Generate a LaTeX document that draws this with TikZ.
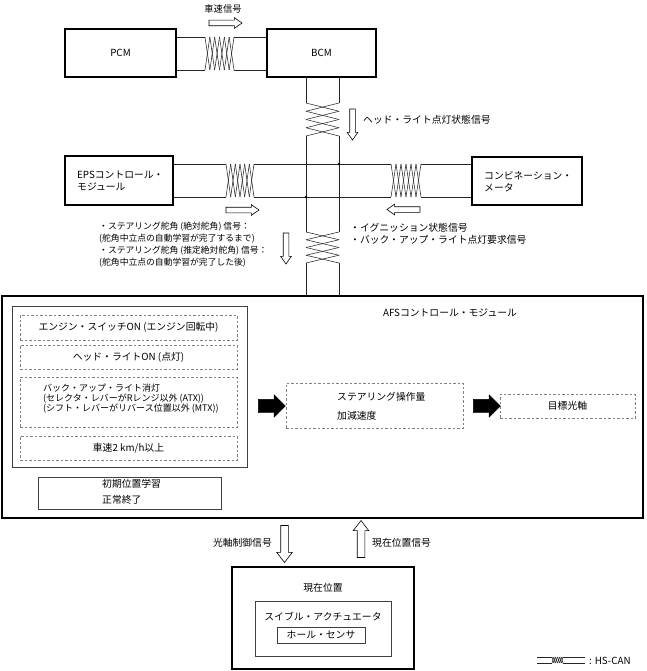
\documentclass[tikz,border=0pt]{standalone}
\usepackage{fontspec}
\setmainfont{Noto Sans CJK JP}
\usetikzlibrary{shapes.arrows}
\tikzset{
  box/.style={draw, line width=1.1pt, rectangle, inner sep=0pt},
  gbox/.style={draw=black!75, line width=0.7pt, rectangle, inner sep=0pt},
  dbox/.style={draw=black!50, dash pattern=on 2.5pt off 2pt, line width=0.6pt, rectangle, inner sep=0pt},
  cable/.style={line width=0.55pt, draw=black!85},
  harrow/.style={single arrow, draw, fill=white, line width=0.6pt, inner xsep=0pt, inner ysep=2.5pt,
    single arrow head extend=2.5pt, single arrow tip angle=70, minimum height=#1},
  bigharrow/.style={single arrow, draw, fill=white, line width=0.6pt, inner xsep=0pt, inner ysep=3.5pt,
    single arrow head extend=4pt, single arrow tip angle=75, minimum height=#1},
  barrow/.style={single arrow, draw, fill=black, line width=0.4pt, inner xsep=0pt, inner ysep=6.5pt,
    single arrow head extend=4.5pt, single arrow tip angle=90, minimum height=#1},
  txt/.style={font=\fontsize{9.8}{12}\selectfont, inner sep=0pt},
  stxt/.style={font=\fontsize{8.8}{12}\selectfont, inner sep=0pt},
  jdot/.style={circle, fill=black, inner sep=0pt, minimum size=2.6pt},
}
% horizontal twist: x1, x2, ytop, ybottom, segments
\newcommand\mytwisth[5]{%
  \foreach \i in {1,...,#5}{%
    \draw[cable] ({#1+(\i-1)*(#2-#1)/#5},{mod(\i,2)==1 ? #3 : #4}) -- ({#1+\i*(#2-#1)/#5},{mod(\i,2)==1 ? #4 : #3});
    \draw[cable] ({#1+(\i-1)*(#2-#1)/#5},{mod(\i,2)==1 ? #4 : #3}) -- ({#1+\i*(#2-#1)/#5},{mod(\i,2)==1 ? #3 : #4});
  }}
% vertical twist: y1, y2, xleft, xright, segments
\newcommand\mytwistv[5]{%
  \foreach \i in {1,...,#5}{%
    \draw[cable] ({mod(\i,2)==1 ? #3 : #4},{#1+(\i-1)*(#2-#1)/#5}) -- ({mod(\i,2)==1 ? #4 : #3},{#1+\i*(#2-#1)/#5});
    \draw[cable] ({mod(\i,2)==1 ? #4 : #3},{#1+(\i-1)*(#2-#1)/#5}) -- ({mod(\i,2)==1 ? #3 : #4},{#1+\i*(#2-#1)/#5});
  }}
\begin{document}
\begin{tikzpicture}[x=1pt,y=-1pt]
\useasboundingbox (0,0) rectangle (646,671);

% ---- top modules
\node[box, minimum width=111pt, minimum height=48pt, txt] (pcm) at (120.5,53) {PCM};
\node[box, minimum width=109pt, minimum height=48pt, txt] (bcm) at (321.5,53) {BCM};
\node[box, minimum width=108pt, minimum height=49pt] (eps) at (119,180.5) {};
\node[txt, anchor=west, align=left] (epst) at (77,181) {EPSコントロール・\\モジュール};
\node[box, minimum width=110pt, minimum height=48pt] (comb) at (527,181) {};
\node[txt, anchor=west, align=left] (combt) at (484,181.5) {コンビネーション・\\メータ};

% ---- AFS module
\node[box, minimum width=641pt, minimum height=222pt] (afs) at (322.5,407) {};
\node[txt] (afst) at (450,313) {AFSコントロール・モジュール};
\node[gbox, minimum width=235pt, minimum height=161pt] (cond) at (129.5,386.5) {};
\node[dbox, minimum width=217pt, minimum height=25pt, txt] (d1) at (128.5,327.5) {エンジン・スイッチON (エンジン回転中)};
\node[dbox, minimum width=217pt, minimum height=24pt, txt] (d2) at (128.5,357) {ヘッド・ライトON (点灯)};
\node[dbox, minimum width=217pt, minimum height=50pt] (d3) at (128.5,402) {};
\node[anchor=west, align=left, inner sep=0pt, font=\fontsize{9}{9.6}\selectfont] (d3t) at (43,398.5) {バック・アップ・ライト消灯\\(セレクタ・レバーがRレンジ以外 (ATX))\\(シフト・レバーがリバース位置以外 (MTX))};
\node[dbox, minimum width=217pt, minimum height=24pt, txt] (d4) at (128.5,448) {車速2 km/h以上};
\node[gbox, minimum width=183pt, minimum height=32pt] (init) at (129.5,493) {};
\node[txt, anchor=west, align=left, font=\fontsize{9.8}{16}\selectfont] (initt) at (102,492) {初期位置学習\\正常終了};
\node[dbox, minimum width=177pt, minimum height=45pt] (steer) at (374.5,405.5) {};
\node[txt, anchor=west, align=left, font=\fontsize{9.8}{19}\selectfont] (steert) at (337,406.5) {ステアリング操作量\\加減速度};
\node[dbox, minimum width=135pt, minimum height=24pt, txt] (target) at (567.5,406) {目標光軸};
\node[barrow=27pt] (ba1) at (268.5,406) {};
\node[barrow=27pt] (ba2) at (483.5,406) {};

% ---- actuator
\node[box, minimum width=182pt, minimum height=102pt] (act) at (323,618) {};
\node[txt] (actt) at (323,588) {現在位置};
\node[gbox, line width=0.6pt, minimum width=136pt, minimum height=55pt] (swiv) at (323,628.5) {};
\node[txt] (swivt) at (323,617) {スイブル・アクチュエータ};
\node[gbox, line width=0.6pt, minimum width=88pt, minimum height=16pt, txt] (hall) at (321,635) {ホール・センサ};
\node[bigharrow=37pt, rotate=-90] (a6) at (284.5,541.5) {};
\node[bigharrow=37pt, rotate=90] (a7) at (361,541.5) {};
\node[txt, anchor=east] (a6t) at (272,543) {光軸制御信号};
\node[txt, anchor=west] (a7t) at (372,543) {現在位置信号};

% ---- cable coordinates
\coordinate (vl0) at (306,77);  \coordinate (vr0) at (339,77);
\coordinate (vl9) at (306,296); \coordinate (vr9) at (339,296);

% PCM - BCM
\draw[cable] (pcm.east |- 0,37) -- (205,37) (234,37) -- (bcm.west |- 0,37);
\draw[cable] (pcm.east |- 0,70) -- (205,70) (234,70) -- (bcm.west |- 0,70);
\mytwisth{205}{234}{37}{70}{6}
\node[harrow=33pt] (a1) at (223.5,23) {};
\node[txt, font=\fontsize{9.3}{11}\selectfont] (a1t) at (223,9) {車速信号};

% vertical bus
\draw[cable] (vl0) -- (306,103) (306,136) -- (306,232) (306,263) -- (vl9);
\draw[cable] (vr0) -- (339,103) (339,136) -- (339,232) (339,263) -- (vr9);
\mytwistv{103}{136}{306}{339}{4}
\mytwistv{232}{263}{306}{339}{4}
\node[harrow=31pt, rotate=-90] (a2) at (352.5,122.5) {};
\node[txt, anchor=west] (a2t) at (363,120) {ヘッド・ライト点灯状態信号};

% horizontal bus
\draw[cable] (eps.east |- 0,164) -- (226,164) (254,164) -- (391,164) (421,164) -- (comb.west |- 0,164);
\draw[cable] (eps.east |- 0,197) -- (226,197) (254,197) -- (391,197) (421,197) -- (comb.west |- 0,197);
\mytwisth{226}{254}{164}{197}{6}
\mytwisth{391}{421}{164}{197}{6}
\node[jdot] (j1) at (339,164) {};
\node[jdot] (j2) at (306,197) {};
\node[harrow=33pt] (a3) at (240.5,210) {};
\node[harrow=33pt, rotate=180] (a4) at (405.5,209.5) {};
\node[harrow=31pt, rotate=-90] (a5) at (286,246.5) {};
\node[stxt, anchor=west, align=left] (lt) at (99,244.5) {・ステアリング舵角 (絶対舵角) 信号：\\(舵角中立点の自動学習が完了するまで)\\・ステアリング舵角 (推定絶対舵角) 信号：\\(舵角中立点の自動学習が完了した後)};
\node[txt, anchor=west, align=left, font=\fontsize{9.8}{12.5}\selectfont] (rt) at (350,234) {・イグニッション状態信号\\・バック・アップ・ライト点灯要求信号};

% legend
\draw[cable] (537,657) -- (552,657) (563,657) -- (585,657);
\draw[cable] (537,663) -- (552,663) (563,663) -- (585,663);
\mytwisth{552}{563}{657}{663}{6}
\node[txt, anchor=west] (lg) at (589,660.5) {: HS-CAN};
\end{tikzpicture}
\end{document}
